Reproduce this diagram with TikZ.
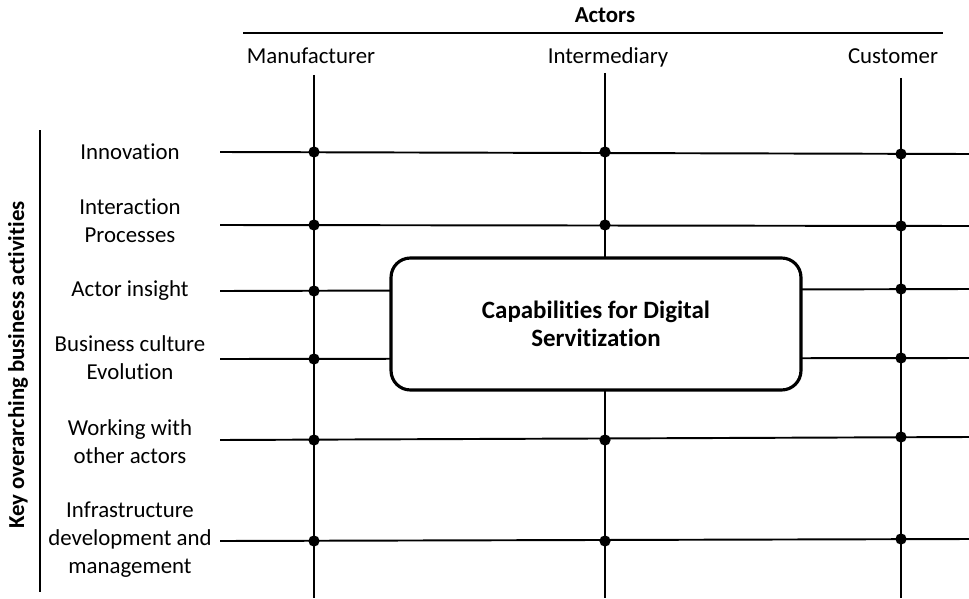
\documentclass[tikz,border=0pt]{standalone}
\usepackage{fontspec}
\setmainfont[Ligatures=NoCommon]{Carlito}
\begin{document}
\begin{tikzpicture}[x=0.02cm,y=-0.02cm,
  label/.style={align=center,font=\fontsize{13}{15.9}\selectfont},
  actorname/.style={anchor=base,font=\fontsize{13}{15.9}\selectfont},
  heading/.style={font=\bfseries\fontsize{13}{15.9}\selectfont},
  grid/.style={line width=1.1pt},
  joint/.style={circle,fill=black,inner sep=0pt,minimum size=6.4pt},
  core/.style={draw,fill=white,line width=1.8pt,rounded corners=11pt,
    minimum width=8.2cm,minimum height=2.64cm,align=center,
    font=\bfseries\fontsize{14.2}{16.2}\selectfont}]
  \useasboundingbox (0,0) rectangle (969,598);

  % actors across the top
  \node[heading] (actors) at (605,15) {Actors};
  \coordinate (topl) at (243,33);
  \coordinate (topr) at (943,33);
  \draw[line width=0.9pt] (topl) -- (topr);
  \node[actorname] (manu) at (311,64) {Manufacturer};
  \node[actorname] (inter) at (608,64) {Intermediary};
  \node[actorname] (cust) at (893,64) {Customer};

  % activities down the side
  \node[heading,rotate=90] (activities) at (18,365) {Key overarching business activities};
  \coordinate (sidet) at (40,130);
  \coordinate (sideb) at (40,592);
  \draw[line width=0.9pt] (sidet) -- (sideb);
  \node[label] (act1) at (130,152) {Innovation};
  \node[label] (act2) at (130,221) {Interaction\\Processes};
  \node[label] (act3) at (130,291) {Actor insight};
  \node[label] (act4) at (130,358) {Business culture\\Evolution};
  \node[label] (act5) at (130,442) {Working with\\other actors};
  \node[label] (act6) at (130,540) {Infrastructure\\development and\\management};

  % grid lines
  \coordinate (mtop) at (314,75);  \coordinate (mbot) at (314,598);
  \coordinate (itop) at (605,73);  \coordinate (ibot) at (605,598);
  \coordinate (ctop) at (901,78);  \coordinate (cbot) at (901,598);
  \draw[grid] (mtop) -- (mbot) (itop) -- (ibot) (ctop) -- (cbot);
  \coordinate (a1) at (220,152); \coordinate (b1) at (969,154);
  \coordinate (a2) at (220,225); \coordinate (b2) at (969,226);
  \coordinate (a3) at (220,291); \coordinate (b3) at (969,289);
  \coordinate (a4) at (220,359); \coordinate (b4) at (969,358);
  \coordinate (a5) at (220,440); \coordinate (b5) at (969,437);
  \coordinate (a6) at (220,541); \coordinate (b6) at (969,539);
  \foreach \r in {1,...,6}
    \draw[grid] (a\r) -- (b\r);

  % box in the middle
  \node[core] (caps) at (596,324) {Capabilities for Digital\\Servitization};

  % joints
  \foreach \r in {1,...,6} {
    \node[joint] at (mtop |- a\r) {};
    \node[joint] at (ctop |- b\r) {};
  }
  \foreach \r in {1,2,5,6}
    \node[joint] at (itop |- a\r) {};
\end{tikzpicture}
\end{document}
